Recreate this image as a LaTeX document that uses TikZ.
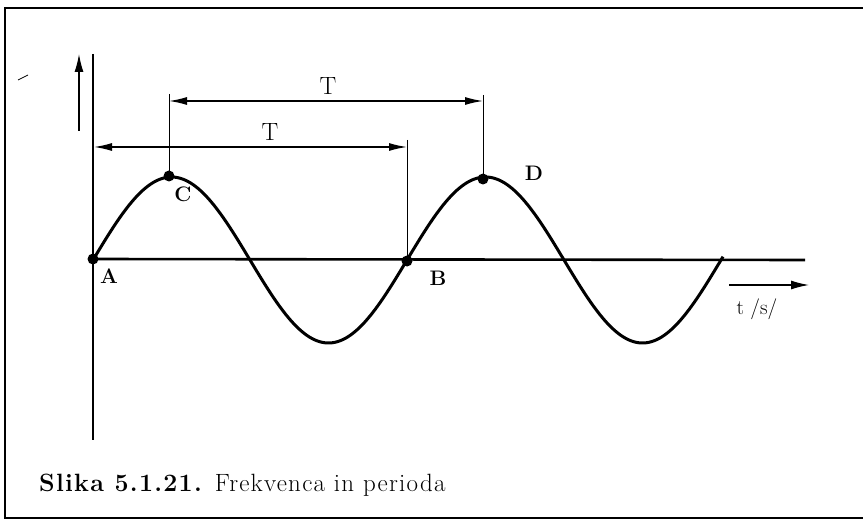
\documentclass[tikz,border=0pt]{standalone}
\usepackage{fontspec}
\newfontfamily\capfont[LetterSpace=5]{Latin Modern Roman}
\usetikzlibrary{arrows.meta}
\begin{document}
\begin{tikzpicture}[x=1pt,y=-1pt,
  axisline/.style={line width=2.6pt},
  wave/.style={line width=3pt},
  dimline/.style={line width=1.4pt},
  tickline/.style={line width=1pt},
  arr/.style={-{Latex[length=18pt,width=9pt]}},
  dimarr/.style={{Latex[length=18pt,width=8pt]}-{Latex[length=18pt,width=8pt]}},
  dot/.style={circle,fill=black,inner sep=0pt,minimum size=11pt},
  ptlabel/.style={font=\fontsize{21}{24}\selectfont\bfseries},
  tlabel/.style={font=\fontsize{25}{28}\selectfont},
  frameline/.style={line width=1.6pt}]
\useasboundingbox (0,0) rectangle (863,532);
% frame
\draw[frameline] (863,8) -- (5,8) -- (5,518) -- (863,518);
% stray mark
\coordinate (m1) at (18,80);
\coordinate (m2) at (28,75);
\draw[line width=0.8pt] (m1) -- (m2);
% axes
\coordinate (vtop) at (93,54);
\coordinate (vbot) at (93,440);
\draw[axisline] (vtop) -- (vbot);
\coordinate (haxend) at (805,260);
\node[dot] (A) at (93,259) {};
\node[dot] (B) at (407,261) {};
\node[dot] (C) at (169,176) {};
\node[dot] (D) at (483,179) {};
\draw[axisline] (A.center) -- (haxend);
% y arrow
\coordinate (ya1) at (79,131);
\coordinate (ya2) at (79,54);
\draw[dimline,arr] (ya1) -- (ya2);
% t arrow
\coordinate (ta1) at (729,285);
\coordinate (ta2) at (809,285);
\draw[dimline,arr] (ta1) -- (ta2);
\node[font=\fontsize{21}{24}\selectfont] (tl) at (757,309) {t /s/};
% sine
\draw[wave] plot[domain=0:630,samples=240,smooth] ({93+\x},{260-83*sin(\x/314*360)});
% dimension verticals
\coordinate (cTop) at (169,94);
\coordinate (dTop) at (483,95);
\coordinate (bTop) at (407,140);
\draw[tickline] (cTop) -- (C.center);
\draw[tickline] (dTop) -- (D.center);
\draw[tickline] (bTop) -- (B.center);
% dimension lines
\coordinate (l1a) at (94,147);
\coordinate (l1b) at (407,147);
\coordinate (l2a) at (169,101);
\coordinate (l2b) at (483,101);
\draw[dimline,dimarr] (l1a) -- (l1b);
\draw[dimline,dimarr] (l2a) -- (l2b);
\node[tlabel] (T1) at (270,132) {T};
\node[tlabel] (T2) at (328,86) {T};
% point labels
\node[ptlabel] (Al) at (109,276) {A};
\node[ptlabel] (Bl) at (438,278) {B};
\node[ptlabel] (Cl) at (183,194) {C};
\node[ptlabel] (Dl) at (534,173) {D};
% caption
\node[anchor=base west,inner sep=0pt,font=\capfont\fontsize{25}{30}\selectfont] (cap) at (39,491)
  {\textbf{Slika 5.1.21.} Frekvenca in perioda};
\end{tikzpicture}
\end{document}
